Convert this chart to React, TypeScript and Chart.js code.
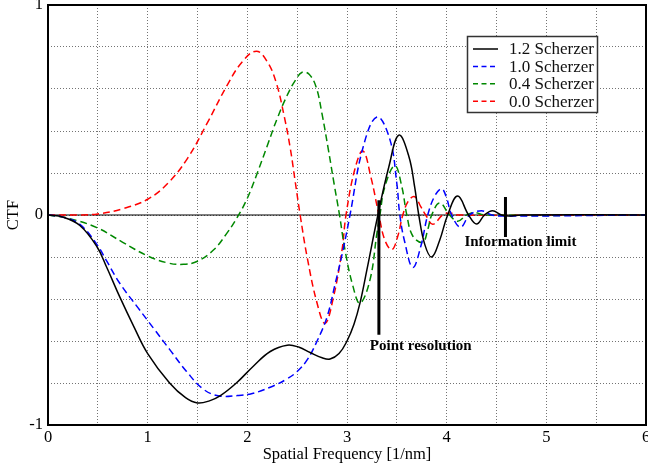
import React, { useEffect, useRef } from 'react';
import { Chart, registerables } from 'chart.js';

Chart.register(...registerables);

const FONT = '"Liberation Serif", "Times New Roman", serif';

// Series: [spatial frequency (1/nm), CTF]
const scherzer12: [number, number][] = [
  [0, 0], [0.15, -0.01], [0.32, -0.05], [0.49, -0.15], [0.59, -0.25], [0.72, -0.39],
  [0.86, -0.53], [1.0, -0.66], [1.22, -0.8], [1.38, -0.87], [1.5, -0.895], [1.62, -0.885],
  [1.73, -0.86], [1.89, -0.8], [2.06, -0.72], [2.23, -0.65], [2.4, -0.62], [2.52, -0.63],
  [2.63, -0.655], [2.75, -0.68], [2.83, -0.686], [2.92, -0.66], [3.0, -0.6], [3.07, -0.52],
  [3.13, -0.42], [3.2, -0.26], [3.31, 0], [3.42, 0.23], [3.52, 0.38], [3.62, 0.28],
  [3.68, 0.13], [3.72, 0], [3.78, -0.14], [3.85, -0.2], [3.93, -0.12], [4.01, 0],
  [4.11, 0.09], [4.22, 0], [4.3, -0.043], [4.38, 0], [4.46, 0.02], [4.55, 0],
  [4.62, -0.005], [4.75, 0], [6, 0],
];
const scherzer10: [number, number][] = [
  [0, 0], [0.15, -0.01], [0.32, -0.045], [0.49, -0.14], [0.59, -0.22], [0.72, -0.325],
  [0.9, -0.44], [1.06, -0.54], [1.22, -0.64], [1.39, -0.745], [1.56, -0.83], [1.72, -0.862],
  [1.9, -0.86], [2.05, -0.85], [2.23, -0.82], [2.4, -0.78], [2.5, -0.745], [2.6, -0.69],
  [2.7, -0.6], [2.8, -0.485], [2.88, -0.33], [2.96, -0.167], [3.03, 0], [3.16, 0.32],
  [3.3, 0.467], [3.43, 0.36], [3.5, 0.15], [3.53, 0], [3.58, -0.13], [3.66, -0.25],
  [3.74, -0.15], [3.81, 0], [3.88, 0.09], [3.95, 0.125], [4.0, 0.08], [4.05, 0],
  [4.14, -0.058], [4.23, 0], [4.35, 0.02], [4.45, 0], [4.55, -0.005], [6, 0],
];
const scherzer04: [number, number][] = [
  [0, 0], [0.2, -0.015], [0.49, -0.06], [0.75, -0.13], [1.0, -0.195], [1.2, -0.228],
  [1.36, -0.235], [1.5, -0.22], [1.66, -0.167], [1.79, -0.09], [1.9, -0.01], [2.0, 0.08],
  [2.1, 0.2], [2.2, 0.33], [2.3, 0.46], [2.4, 0.57], [2.48, 0.64], [2.55, 0.68],
  [2.62, 0.67], [2.69, 0.61], [2.75, 0.48], [2.81, 0.32], [2.87, 0.15], [2.925, 0],
  [2.98, -0.167], [3.06, -0.34], [3.13, -0.42], [3.23, -0.31], [3.3, -0.087], [3.33, 0],
  [3.38, 0.135], [3.48, 0.235], [3.55, 0.135], [3.6, 0], [3.66, -0.1], [3.76, -0.13],
  [3.81, -0.07], [3.85, 0], [3.93, 0.057], [4.03, 0], [4.11, -0.03], [4.2, 0],
  [4.28, 0.012], [4.38, 0], [6, 0],
];
const scherzer00: [number, number][] = [
  [0, 0], [0.3, 0], [0.5, 0.005], [0.75, 0.03], [1.0, 0.075], [1.2, 0.15],
  [1.4, 0.27], [1.6, 0.44], [1.8, 0.62], [1.95, 0.73], [2.09, 0.78], [2.2, 0.73],
  [2.29, 0.63], [2.37, 0.47], [2.43, 0.32], [2.48, 0.16], [2.53, 0], [2.6, -0.2],
  [2.7, -0.42], [2.78, -0.516], [2.86, -0.4], [2.95, -0.167], [2.99, 0], [3.08, 0.22],
  [3.16, 0.305], [3.24, 0.18], [3.32, 0], [3.38, -0.12], [3.45, -0.165], [3.51, -0.1],
  [3.56, 0], [3.62, 0.07], [3.68, 0.087], [3.74, 0.04], [3.79, 0], [3.86, -0.044],
  [3.96, 0], [4.03, 0.01], [4.12, 0], [6, 0],
];

const seriesLabels = ['1.2 Scherzer', '1.0 Scherzer', '0.4 Scherzer', '0.0 Scherzer'];
const seriesData = [scherzer12, scherzer10, scherzer04, scherzer00];
const seriesColors = ['#000000', '#0000ff', '#008800', '#ff0000'];
const seriesDashed = [false, true, true, true];

// Annotations
const markerFreq = [3.32, 4.59];
const markerTop = [0.07, 0.086];
const markerBottom = [-0.57, -0.105];
const markerTexts = ['Point resolution', 'Information limit'];
const markerTextFreq = [3.74, 4.74];
const markerTextCtf = [-0.624, -0.129];

const xTickLabels = ['0', '1', '2', '3', '4', '5', '6'];
const yTickLabels = ['-1', '0', '1'];

const isInt = (v: number) => Math.abs(v - Math.round(v)) < 1e-6;

const decorPlugin = {
  id: 'decor',
  beforeDatasetsDraw(chart: any) {
    const { ctx, chartArea, scales } = chart;
    const y0 = scales.y.getPixelForValue(0);
    ctx.save();
    ctx.strokeStyle = '#000';
    ctx.lineWidth = 1.2;
    ctx.beginPath();
    ctx.moveTo(chartArea.left, y0);
    ctx.lineTo(chartArea.right, y0);
    ctx.stroke();
    ctx.restore();
  },
  afterDraw(chart: any) {
    const { ctx, chartArea, scales } = chart;
    ctx.save();
    // frame
    ctx.strokeStyle = '#000';
    ctx.lineWidth = 2;
    ctx.strokeRect(chartArea.left, chartArea.top, chartArea.right - chartArea.left, chartArea.bottom - chartArea.top);

    // annotation text
    ctx.fillStyle = '#000';
    ctx.font = `bold 15px ${FONT}`;
    ctx.textAlign = 'center';
    ctx.textBaseline = 'middle';
    markerTexts.forEach((t, i) => {
      ctx.fillText(t, scales.x.getPixelForValue(markerTextFreq[i]), scales.y.getPixelForValue(markerTextCtf[i]));
    });

    // legend
    const bx = 467.5, by = 36.5, bw = 130, bh = 76;
    ctx.fillStyle = '#fff';
    ctx.fillRect(bx, by, bw, bh);
    ctx.strokeStyle = '#333';
    ctx.lineWidth = 1.5;
    ctx.strokeRect(bx, by, bw, bh);
    ctx.font = `17px ${FONT}`;
    ctx.textAlign = 'left';
    ctx.textBaseline = 'middle';
    seriesLabels.forEach((lab, i) => {
      const yy = 49 + i * 17.4;
      ctx.strokeStyle = seriesColors[i];
      ctx.lineWidth = 1.5;
      ctx.setLineDash(seriesDashed[i] ? [5, 3.5] : []);
      ctx.beginPath();
      ctx.moveTo(473, yy);
      ctx.lineTo(498, yy);
      ctx.stroke();
      ctx.setLineDash([]);
      ctx.fillStyle = '#111';
      ctx.fillText(lab, 509, yy + 1);
    });
    ctx.restore();
  },
};

export default function App() {
  const ref = useRef<HTMLCanvasElement | null>(null);
  useEffect(() => {
    if (!ref.current) return;
    const datasets: any[] = [];
    markerFreq.forEach((f, i) => {
      datasets.push({
        label: markerTexts[i],
        data: [{ x: f, y: markerTop[i] }, { x: f, y: markerBottom[i] }],
        borderColor: '#000',
        borderWidth: 3,
        pointRadius: 0,
        fill: false,
      });
    });
    seriesData.forEach((d, i) => {
      datasets.push({
        label: seriesLabels[i],
        data: d.map(([x, y]) => ({ x, y })),
        borderColor: seriesColors[i],
        borderWidth: 1.5,
        borderDash: seriesDashed[i] ? [7, 4] : [],
        pointRadius: 0,
        fill: false,
        tension: 0.4,
      });
    });
    const gridColor = 'rgba(0,0,0,0.55)';
    const axisFont = { size: 16.5, family: FONT };
    const chart = new Chart(ref.current, {
      type: 'line',
      data: { datasets },
      plugins: [decorPlugin],
      options: {
        animation: false,
        responsive: false,
        layout: { padding: { top: 5, right: 2, left: 0, bottom: 0 } },
        plugins: { legend: { display: false }, tooltip: { enabled: false } },
        scales: {
          x: {
            type: 'linear',
            min: 0,
            max: 6,
            ticks: {
              stepSize: 0.5,
              autoSkip: false,
              maxRotation: 0,
              padding: 3,
              color: '#000',
              font: axisFont,
              callback: (v: any) => (isInt(Number(v)) ? xTickLabels[Math.round(Number(v))] : ''),
            },
            grid: { color: gridColor, lineWidth: 1, drawTicks: false },
            border: { display: false, dash: [1, 2] },
            title: {
              display: true,
              text: 'Spatial Frequency [1/nm]',
              color: '#000',
              font: axisFont,
              padding: { top: 0, bottom: 6 },
            },
            afterFit: (s: any) => {
              s.height = 46;
              s.paddingLeft = 0;
              s.paddingRight = 0;
            },
          },
          y: {
            type: 'linear',
            min: -1,
            max: 1,
            ticks: {
              stepSize: 0.2,
              autoSkip: false,
              padding: 5,
              color: '#000',
              font: axisFont,
              callback: (v: any) => {
                const n = Number(v);
                if (!isInt(n)) return '';
                return yTickLabels[Math.round(n) + 1];
              },
            },
            grid: { color: gridColor, lineWidth: 1, drawTicks: false },
            border: { display: false, dash: [1, 2] },
            title: {
              display: true,
              text: 'CTF',
              color: '#000',
              font: axisFont,
              padding: { top: 4, bottom: 0 },
            },
            afterFit: (s: any) => {
              s.width = 48;
              s.paddingTop = 0;
              s.paddingBottom = 0;
            },
          },
        },
      } as any,
    });
    return () => chart.destroy();
  }, []);
  return (
    <div style={{ position: 'absolute', left: 0, top: 0, width: 648, height: 471, background: '#fff' }}>
      <canvas ref={ref} width={648} height={471} style={{ display: 'block' }} />
    </div>
  );
}
